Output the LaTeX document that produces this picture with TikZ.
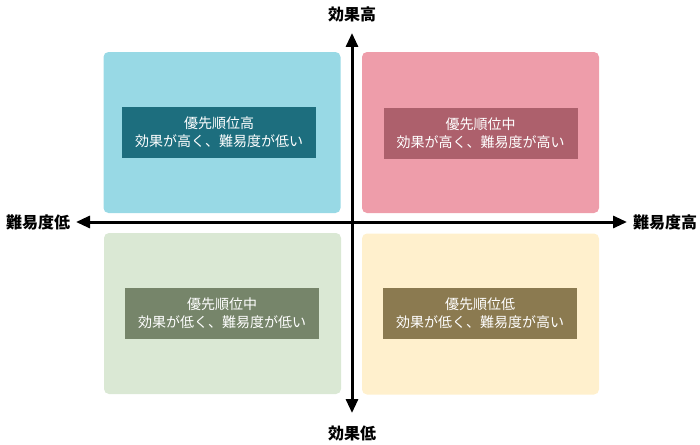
\documentclass[tikz,border=0pt]{standalone}
\usepackage{fontspec}
\setmainfont{Noto Sans CJK JP}
\usetikzlibrary{arrows.meta}

\tikzset{
  quad/.style={rounded corners=5pt, minimum width=237pt, minimum height=161pt, inner sep=0pt},
  tag/.style={text=white, minimum width=194pt, minimum height=51pt, inner sep=0pt,
    align=center, font=\fontsize{14}{18}\selectfont},
  axislabel/.style={font=\fontsize{16}{18}\selectfont\bfseries},
  axis/.style={line width=3pt, {Triangle[length=14pt,width=12pt]}-{Triangle[length=14pt,width=12pt]}}
}

\begin{document}
\begin{tikzpicture}[x=1pt,y=-1pt]

\useasboundingbox (0,0) rectangle (700,444);

\definecolor{hi_easy_light}{RGB}{152,217,229}
\definecolor{hi_easy_dark}{RGB}{29,110,126}
\definecolor{hi_hard_light}{RGB}{238,157,170}
\definecolor{hi_hard_dark}{RGB}{173,96,108}
\definecolor{lo_easy_light}{RGB}{218,232,212}
\definecolor{lo_easy_dark}{RGB}{118,133,106}
\definecolor{lo_hard_light}{RGB}{255,240,205}
\definecolor{lo_hard_dark}{RGB}{139,122,80}

% quadrants
\node[quad, fill=hi_easy_light] (hiEasy) at (222,132.5) {};
\node[quad, fill=hi_hard_light] (hiHard) at (480.5,132.5) {};
\node[quad, fill=lo_easy_light] (loEasy) at (222.5,313.5) {};
\node[quad, fill=lo_hard_light] (loHard) at (480.5,314) {};

\node[tag, fill=hi_easy_dark] (hiEasyTag) at (219,132.5) {優先順位高\\効果が高く、難易度が低い};
\node[tag, fill=hi_hard_dark] (hiHardTag) at (480.5,133) {優先順位中\\効果が高く、難易度が高い};
\node[tag, fill=lo_easy_dark] (loEasyTag) at (222,313.5) {優先順位中\\効果が低く、難易度が低い};
\node[tag, fill=lo_hard_dark] (loHardTag) at (480,313.5) {優先順位低\\効果が低く、難易度が高い};

% axes
\coordinate (axisTop) at (352,33);
\coordinate (axisBottom) at (352,413);
\coordinate (axisLeft) at (76,222);
\coordinate (axisRight) at (627,222);

\draw[axis] (axisBottom) -- (axisTop);
\draw[axis] (axisLeft) -- (axisRight);

\node[axislabel] (effectHigh) at (352,14) {効果高};
\node[axislabel] (effectLow) at (352,433) {効果低};
\node[axislabel] (diffLow) at (38,222) {難易度低};
\node[axislabel] (diffHigh) at (665,222) {難易度高};

\end{tikzpicture}
\end{document}
